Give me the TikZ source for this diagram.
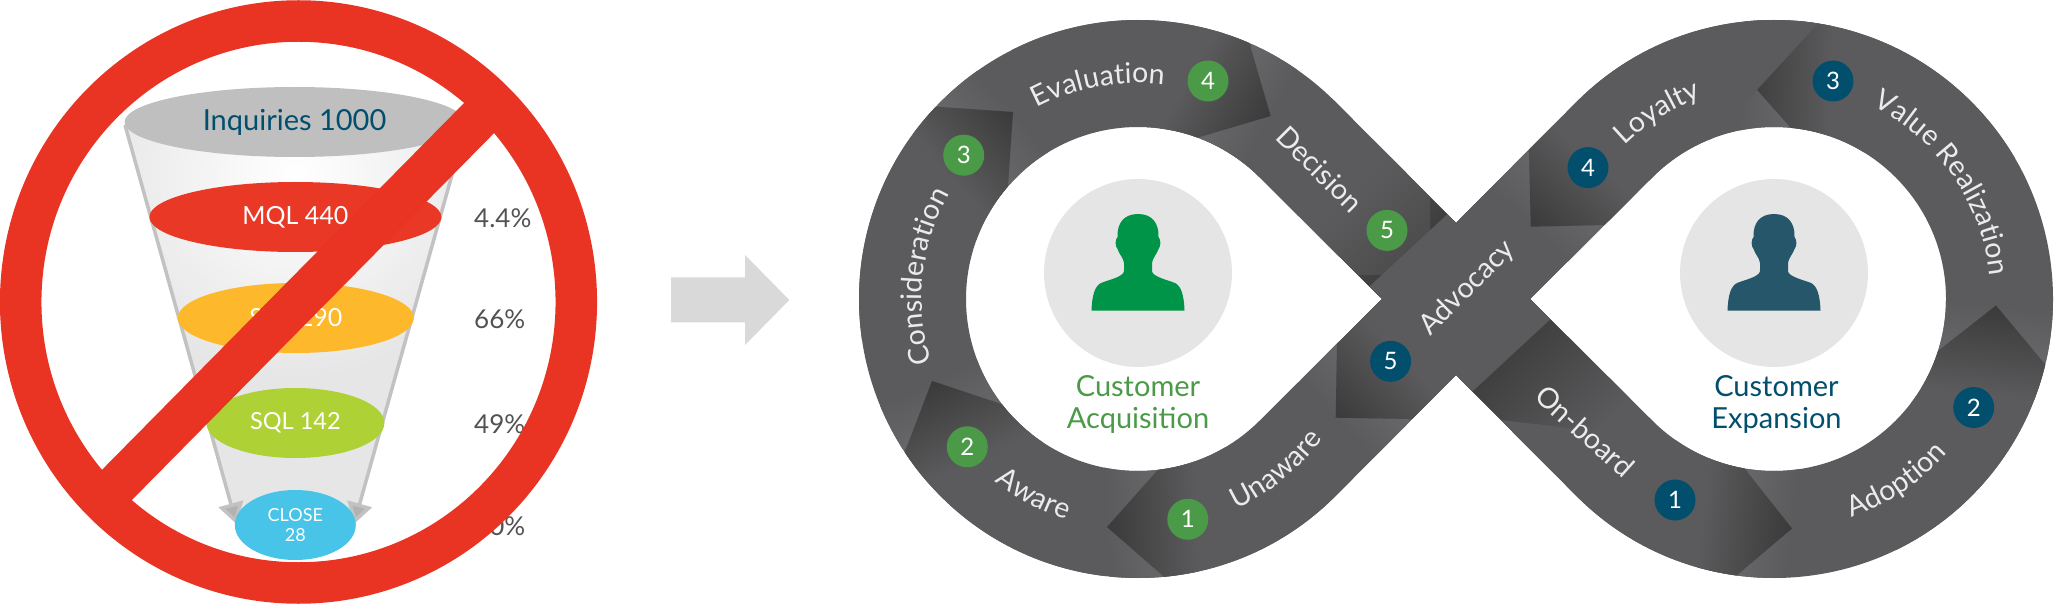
\documentclass[tikz,border=0pt]{standalone}
\usepackage{fontspec}
\setmainfont{Lato}
\usetikzlibrary{arrows.meta,calc,shapes.geometric,decorations.text}

\definecolor{bandbase}{HTML}{5B5B5D}
\definecolor{bandlight}{HTML}{67676A}
\definecolor{banddark}{HTML}{3A3A3A}
\definecolor{acqgreen}{HTML}{4B9A47}
\definecolor{expblue}{HTML}{024F6D}
\definecolor{ringred}{HTML}{E93323}
\definecolor{mqlred}{HTML}{E93825}
\definecolor{salyellow}{HTML}{FDB92B}
\definecolor{sqlgreen}{HTML}{AED136}
\definecolor{closeblue}{HTML}{47C4E8}
\definecolor{personacq}{HTML}{009448}
\definecolor{personexp}{HTML}{25566A}
\definecolor{funnelgrey}{HTML}{E6E6E6}

\newcommand{\pxfont}[1]{\fontsize{#1}{#1}\selectfont}
\newcommand{\pxlead}[2]{\fontsize{#1}{#2}\selectfont}
\newcommand{\bandfont}{\pxfont{28.5}\color{white!92!black}}

% gradient strip starting at #1 and running towards angle #2
\newcommand{\stripshade}[5]{%
  \begin{scope}[transform canvas={shift={(#1)},rotate=-#2}]
    \shade[left color=#4,right color=#5] (0,-130) rectangle (#3,130);
  \end{scope}}
% arrow tip at #1 with arms to #2 and #3, body towards angle #4
\newcommand{\segtip}[6]{%
  \stripshade{#1}{#4}{#5}{bandbase}{bandlight}
  \begin{scope}
    \clip (#1) -- ($(#1)!1.4!(#2)$) -- ($(#1)!1.4!(#2)+(#4:300)$)
      -- ($(#1)!1.4!(#3)+(#4:300)$) -- ($(#1)!1.4!(#3)$) -- cycle;
    \fill[bandbase] (#1) circle (400);
    \stripshade{#1}{#4}{#6}{banddark}{bandbase}
  \end{scope}}

\tikzset{
  person/.pic={
    \fill[pic actions] (-46.5,37.7) .. controls (-46,22) and (-43,12) .. (-36,9.6)
      .. controls (-26,6) and (-13,3) .. (-14,-3) -- (-14,-10)
      .. controls (-14.5,-15) and (-19,-19) .. (-20.5,-24)
      .. controls (-23,-27) and (-23,-33) .. (-20.5,-36)
      .. controls (-21,-50) and (-14,-59) .. (0,-59)
      .. controls (14,-59) and (21,-50) .. (20.5,-36)
      .. controls (23,-33) and (23,-27) .. (20.5,-24)
      .. controls (19,-19) and (14.5,-15) .. (14,-10) -- (14,-3)
      .. controls (13,3) and (26,6) .. (36,9.6)
      .. controls (43,12) and (46,22) .. (46.5,37.7) -- cycle;
  }
}

\begin{document}
\begin{tikzpicture}[
  x=1pt, y=-1pt,
  disc/.style = {ellipse, inner sep=0pt, text=white, font=\pxfont{25}},
  pct/.style = {anchor=west, inner sep=0pt, text=black!68, font=\pxfont{26}},
  badgeacq/.style = {circle, fill=acqgreen, text=white, inner sep=0pt,
                     minimum size=41pt, font=\pxfont{24}},
  badgeexp/.style = {badgeacq, fill=expblue},
  bandlabel/.style = {text=white!92!black, inner sep=0pt, font=\pxfont{28.5}},
  headcircle/.style = {circle, fill=black!10, inner sep=0pt, minimum size=188pt},
  caption/.style = {align=center, inner sep=0pt, font=\pxlead{29}{32.5}},
  funnelline/.style = {draw=black!24, line width=3.5pt,
                       -{Triangle[length=21pt,width=25pt,fill=black!30]}},
  curvedlabel/.style = {decorate, decoration={text along path, text align=center, text={|\bandfont|#1}}}
]
\useasboundingbox (0,0) rectangle (2062,604);

% funnel
\coordinate (lt) at (125,125);
\coordinate (rt) at (466,125);
\coordinate (lb) at (236.5,524);
\coordinate (rb) at (354,524);
\begin{scope}
  \clip (lt) -- (rt) -- (rb) -- (lb) -- cycle;
  \fill[funnelgrey] (100,100) rectangle (500,540);
  \shade[inner color=white, outer color=funnelgrey] (295,175) circle (205);
\end{scope}
\draw[funnelline] (lt) -- (lb);
\draw[funnelline] (rt) -- (rb);

\node[disc, fill=black!25, minimum width=340pt, minimum height=70pt, text=expblue, font=\pxfont{29}] (inq) at (294.6,122) {Inquiries 1000};
\node[disc, fill=mqlred, minimum width=292pt, minimum height=70pt] (mql) at (295.4,217) {MQL 440};
\node[disc, fill=salyellow, minimum width=236pt, minimum height=70pt] (sal) at (295.8,318) {SAL 290};
\node[disc, fill=sqlgreen, minimum width=178pt, minimum height=70pt, font=\pxfont{23.5}] (sql) at (295.4,423) {SQL 142};
\node[disc, fill=closeblue, minimum width=121pt, minimum height=70pt, align=center, font=\pxlead{18}{20}] (close) at (295.3,525) {CLOSE\\28};

\node[pct] (p1) at (474,218) {4.4\%};
\node[pct] (p2) at (474,319) {66\%};
\node[pct] (p3) at (474,424) {49\%};
\node[pct] (p4) at (474,526) {20\%};

% no sign
\draw[ringred, line width=41.5pt] (298.5,302) ellipse [x radius=277.8, y radius=281];
\draw[ringred, line width=42.5pt] (490,107) -- (106,496);

% arrow between the two parts
\fill[black!15] (671,277.3) -- (745,277.3) -- (745,255) -- (789.3,300) -- (745,345) -- (745,322.3) -- (671,322.3) -- cycle;

% infinity band
\coordinate (cl) at (1138,299);
\coordinate (cr) at (1774,299);
\begin{scope}
  \clip (1456,223) -- ($(cr)+(225:279)$) arc[start angle=225, end angle=495, radius=279]
    -- (1456,375) -- ($(cl)+(45:279)$) arc[start angle=45, end angle=315, radius=279] -- cycle
    (1382,299) -- ($(cl)+(315:172)$) arc[start angle=315, end angle=45, radius=172] -- cycle
    (1530,299) -- ($(cr)+(135:172)$) arc[start angle=135, end angle=-135, radius=172] -- cycle;
  \fill[bandbase] (850,0) rectangle (2062,604);

  % shadows under the crossing strip
  \stripshade{1495,336}{45}{140}{banddark}{bandbase}
  \stripshade{1420,262}{225}{120}{banddark}{bandbase}
  \begin{scope}
    \clip (1200,100) rectangle (1430,274);
    \fill[bandbase] (1200,100) rectangle (1430,274);
    \stripshade{1430,274}{225}{110}{black!72}{bandbase}
  \end{scope}
  \fill[bandbase] (1382,299) -- (1457,224) -- (1532,299) -- (1457,374) -- cycle;

  \segtip{1107,527}{1156,472}{1164.5,577}{-2.7}{53}{90}
  \segtip{932,381}{1001,404}{906,449}{64.7}{50}{90}
  \segtip{1013,112}{1008,185}{940,107}{138.9}{52}{90}
  \segtip{1270.6,116}{1203,136}{1250,45.5}{209.8}{51}{90}
  \segtip{1335.7,417.7}{1337,345}{1411.7,419}{-42.8}{52}{90}
  \segtip{1792,528.5}{1745.6,470}{1737,575}{186.7}{51}{90}
  \segtip{1996,305.5}{1938,351}{2043,362}{96.2}{51}{90}
  \segtip{1741.6,72.4}{1791,128}{1795,21}{2.2}{51}{90}
  \segtip{1530.7,226.7}{1604,225}{1529,150}{-47.4}{53}{90}
\end{scope}

% customers
\node[headcircle] (headl) at (1138,273) {};
\node[headcircle] (headr) at (1774,273) {};
\pic[fill=personacq] at (headl.center) {person};
\pic[fill=personexp] at (headr.center) {person};
\node[caption, text=acqgreen] (capl) at (1138,404.5) {Customer\\Acquisition};
\node[caption, text=expblue] (capr) at (1776.5,404.5) {Customer\\Expansion};

% band labels
\path[curvedlabel=Unaware] ($(cl)+(81:232)$) arc[start angle=81, end angle=21, radius=232];
\path[curvedlabel=Aware] ($(cl)+(148:232)$) arc[start angle=148, end angle=88, radius=232];
\path[curvedlabel=Consideration] ($(cl)+(146:216)$) arc[start angle=146, end angle=226, radius=216];
\path[curvedlabel=Evaluation] ($(cl)+(225:216)$) arc[start angle=225, end angle=294, radius=216];
\path[curvedlabel=Value Realization] ($(cr)+(-70:217)$) arc[start angle=-70, end angle=1, radius=217];
\path[curvedlabel=Adoption] ($(cr)+(86:232)$) arc[start angle=86, end angle=26, radius=232];
\path[curvedlabel=Loyalty] ($(cr)+(215:214)$) arc[start angle=215, end angle=261, radius=214];
\node[bandlabel, rotate=-45] (decision) at (1320,169) {Decision};
\node[bandlabel, rotate=45] (advocacy) at (1467.5,288) {Advocacy};
\node[bandlabel, rotate=-42] (onboard) at (1585,431) {On-board};

% numbered badges
\node[badgeacq] (a1) at (1187.8,519.3) {1};
\node[badgeacq] (a2) at (967.3,446.8) {2};
\node[badgeacq] (a3) at (963.7,155.2) {3};
\node[badgeacq] (a4) at (1208,81) {4};
\node[badgeacq] (a5) at (1387,230.4) {5};
\node[badgeexp] (e1) at (1675,500) {1};
\node[badgeexp] (e2) at (1973.7,407.5) {2};
\node[badgeexp] (e3) at (1833,81) {3};
\node[badgeexp] (e4) at (1588,167.6) {4};
\node[badgeexp] (e5) at (1390.6,361.3) {5};
\end{tikzpicture}
\end{document}
